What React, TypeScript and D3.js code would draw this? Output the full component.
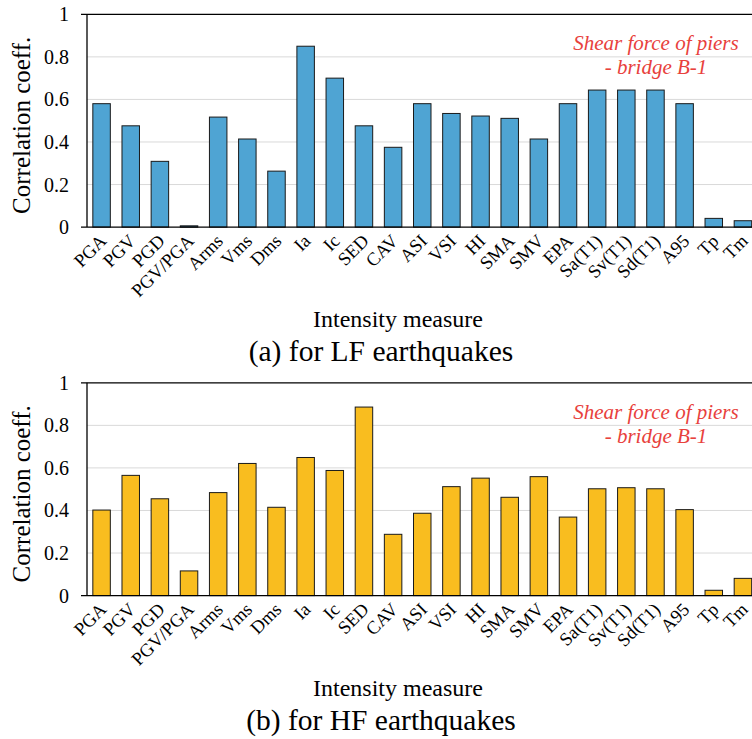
import React from "react";
import * as d3 from "d3";

// intensity measures on the x axis
const categories = [
  "PGA", "PGV", "PGD", "PGV/PGA", "Arms", "Vms", "Dms", "Ia", "Ic", "SED", "CAV",
  "ASI", "VSI", "HI", "SMA", "SMV", "EPA", "Sa(T1)", "Sv(T1)", "Sd(T1)", "A95", "Tp", "Tm",
];

// correlation coefficients, LF earthquakes
const lfValues = [
  0.58, 0.476, 0.309, 0.006, 0.517, 0.414, 0.263, 0.85, 0.70, 0.476, 0.375,
  0.58, 0.534, 0.522, 0.511, 0.414, 0.58, 0.644, 0.644, 0.644, 0.58, 0.041, 0.03,
];

// correlation coefficients, HF earthquakes
const hfValues = [
  0.402, 0.565, 0.455, 0.116, 0.484, 0.621, 0.415, 0.649, 0.588, 0.886, 0.288,
  0.387, 0.512, 0.552, 0.462, 0.559, 0.369, 0.502, 0.507, 0.502, 0.404, 0.025, 0.081,
];

const yTicks = [0, 0.2, 0.4, 0.6, 0.8, 1];
const yTickLabels = ["0", "0.2", "0.4", "0.6", "0.8", "1"];

const serif = { fontFamily: "Liberation Serif" };

function Panel({ values, color, top, caption }) {
  const x = d3.scaleBand()
    .domain(categories)
    .range([87, 757.5])
    .paddingInner(0.4)
    .paddingOuter(0.2);
  const y = d3.scaleLinear().domain([0, 1]).range([top + 212.8, top]);

  return (
    <g>
      {yTicks.slice(1, 5).map(t => (
        <line key={t} x1={87} x2={752} y1={y(t)} y2={y(t)} stroke="#d9d9d9" strokeWidth={1} />
      ))}
      {values.map((v, i) => (
        <rect key={categories[i]}
          x={x(categories[i])} width={x.bandwidth()}
          y={y(v)} height={y(0) - y(v)}
          fill={color} stroke="#1a1a1a" strokeWidth={1} />
      ))}
      <line x1={81} x2={752} y1={y(1)} y2={y(1)} stroke="#000" strokeWidth={1.3} />
      <line x1={81} x2={752} y1={y(0)} y2={y(0)} stroke="#000" strokeWidth={1.3} />
      <line x1={87} x2={87} y1={y(1)} y2={y(0)} stroke="#000" strokeWidth={1.3} />
      {yTicks.map((t, i) => (
        <text key={t} x={69} y={y(t)} dy="0.35em" textAnchor="end"
          style={serif} fontSize={20} fill="#000">{yTickLabels[i]}</text>
      ))}
      <text transform={`translate(29.5,${top + 111}) rotate(-90)`} textAnchor="middle"
        style={serif} fontSize={25} fill="#000">Correlation coeff.</text>
      {categories.map(c => (
        <text key={c}
          transform={`translate(${x(c) + x.bandwidth() / 2 + 6},${y(0) + 15}) rotate(-45)`}
          textAnchor="end" style={serif} fontSize={18.5} fill="#000">{c}</text>
      ))}
      <text x={656} y={top + 36} textAnchor="middle" style={serif} fontStyle="italic"
        fontSize={21} fill="#e8413c">Shear force of piers</text>
      <text x={656} y={top + 60} textAnchor="middle" style={serif} fontStyle="italic"
        fontSize={21} fill="#e8413c">- bridge B-1</text>
      <text x={398} y={top + 313} textAnchor="middle" style={serif} fontSize={24}
        fill="#000">Intensity measure</text>
      <text x={381} y={top + 347} textAnchor="middle" style={serif} fontSize={29.5}
        fill="#000">{caption}</text>
    </g>
  );
}

export default function App() {
  return (
    <>
      <style>{"body{margin:0}"}</style>
      <svg width={752} height={739} style={{ display: "block", background: "#fff" }}>
        <Panel values={lfValues} color="#4fa4d3" top={14.3} caption="(a) for LF earthquakes" />
        <Panel values={hfValues} color="#f9bd1f" top={382.8} caption="(b) for HF earthquakes" />
      </svg>
    </>
  );
}
